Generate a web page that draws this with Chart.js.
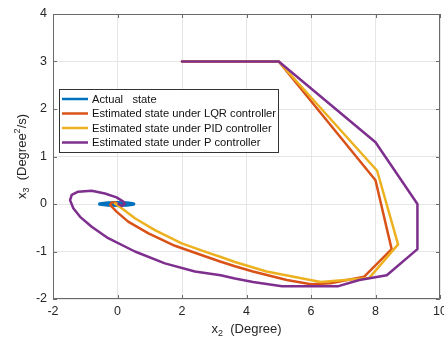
<!DOCTYPE html>
<html>
<head>
<meta charset="utf-8">
<script src="https://cdn.jsdelivr.net/npm/chart.js@4/dist/chart.umd.min.js"></script>
<style>
  html, body { margin: 0; padding: 0; background: #fff; }
</style>
</head>
<body>
<canvas id="c" width="444" height="342"></canvas>
<script>
// Phase-plane trajectories: x2 (Degree) vs x3 (Degree^2/s)
const seriesNames = [
  'Actual   state',
  'Estimated state under LQR controller',
  'Estimated state under PID controller',
  'Estimated state under P controller'
];
const seriesColors = ['#0072BD', '#D95319', '#EDB120', '#7E2F8E'];

const actualX = [-0.55, -0.3, 0.0, 0.3, 0.5, 0.3, 0.0, -0.3, -0.55];
const actualY = [0.0, 0.02, 0.025, 0.02, 0.0, -0.02, -0.025, -0.02, 0.0];

const lqrX = [2, 5, 8.0, 8.5, 7.65, 6.6, 6.0, 5.25, 4.2, 3.64, 3.18, 2.71, 1.78, 0.96, 0.33, -0.03, -0.23, -0.18, -0.05, 0];
const lqrY = [3, 3, 0.5, -0.95, -1.53, -1.67, -1.69, -1.6, -1.42, -1.31, -1.21, -1.1, -0.88, -0.62, -0.37, -0.16, -0.02, 0.03, 0.03, 0];

const pidX = [2, 5, 8.05, 8.7, 7.8, 6.3, 4.62, 3.64, 3.18, 2.82, 1.99, 1.16, 0.54, 0.13, -0.08, 0];
const pidY = [3, 3, 0.7, -0.85, -1.56, -1.64, -1.42, -1.22, -1.11, -1.03, -0.83, -0.55, -0.3, -0.09, 0.01, 0];

const pX = [2, 5, 8.0, 9.3, 9.3, 8.35, 7.5, 6.85, 5.1, 4.2, 3.64, 3.2, 2.4, 1.47, 0.54, -0.29, -0.8, -1.16, -1.37, -1.47, -1.42, -1.22, -0.8, -0.39, -0.03, 0.18, 0.23, 0.13, 0.03];
const pY = [3, 3, 1.3, 0.0, -0.95, -1.5, -1.6, -1.73, -1.73, -1.64, -1.57, -1.5, -1.42, -1.25, -1.0, -0.72, -0.48, -0.27, -0.09, 0.08, 0.19, 0.26, 0.28, 0.22, 0.14, 0.05, 0.0, -0.04, 0.0];

const xTicks = [-2, 0, 2, 4, 6, 8, 10];
const yTicks = [-2, -1, 0, 1, 2, 3, 4];

const FONT = '"Liberation Sans", Arial, Helvetica, sans-serif';
const TEXT = '#262626';

function pts(xs, ys) { return xs.map((x, i) => ({ x: x, y: ys[i] })); }

const xySeries = [[actualX, actualY], [lqrX, lqrY], [pidX, pidY], [pX, pY]];
const widths = [3.5, 2.5, 2.5, 2.5];

const datasets = xySeries.map((s, i) => ({
  label: seriesNames[i],
  data: pts(s[0], s[1]),
  borderColor: seriesColors[i],
  backgroundColor: seriesColors[i],
  borderWidth: widths[i],
  showLine: true,
  pointRadius: 0,
  tension: 0,
  fill: false,
  borderJoinStyle: 'round',
  borderCapStyle: 'round',
  order: 4 - i
}));

// Draws text made of runs, some raised or lowered (sub/superscripts)
function richText(ctx, runs, x, y, align) {
  let total = 0;
  runs.forEach(r => { ctx.font = r.size + 'px ' + FONT; total += ctx.measureText(r.t).width; });
  let cx = align === 'center' ? x - total / 2 : x;
  runs.forEach(r => {
    ctx.font = r.size + 'px ' + FONT;
    ctx.fillText(r.t, cx, y + (r.dy || 0));
    cx += ctx.measureText(r.t).width;
  });
}

const framePlugin = {
  id: 'frame',
  afterDatasetsDraw(chart) {
    const { ctx, chartArea: a, scales } = chart;
    ctx.save();
    ctx.strokeStyle = '#6a6a6a';
    ctx.lineWidth = 1;
    ctx.beginPath();
    ctx.moveTo(a.left + 0.5, a.top + 0.5);
    ctx.lineTo(a.right - 0.5, a.top + 0.5);
    ctx.lineTo(a.right - 0.5, a.bottom - 0.5);
    ctx.lineTo(a.left + 0.5, a.bottom - 0.5);
    ctx.closePath();
    ctx.stroke();
    // inward tick marks on all four sides
    const tl = 4;
    ctx.beginPath();
    xTicks.forEach(v => {
      const px = Math.round(scales.x.getPixelForValue(v)) + 0.5;
      ctx.moveTo(px, a.bottom); ctx.lineTo(px, a.bottom - tl);
      ctx.moveTo(px, a.top); ctx.lineTo(px, a.top + tl);
    });
    yTicks.forEach(v => {
      const py = Math.round(scales.y.getPixelForValue(v)) + 0.5;
      ctx.moveTo(a.left, py); ctx.lineTo(a.left + tl, py);
      ctx.moveTo(a.right, py); ctx.lineTo(a.right - tl, py);
    });
    ctx.stroke();
    ctx.restore();
  },
  afterDraw(chart) {
    const { ctx, chartArea: a } = chart;
    ctx.save();
    ctx.fillStyle = TEXT;
    ctx.textBaseline = 'alphabetic';
    // x-axis title
    richText(ctx, [
      { t: 'x', size: 13 },
      { t: '2', size: 9, dy: 3 },
      { t: '  (Degree)', size: 13 }
    ], (a.left + a.right) / 2, 333, 'center');
    // y-axis title (rotated)
    ctx.translate(26, (a.top + a.bottom) / 2);
    ctx.rotate(-Math.PI / 2);
    richText(ctx, [
      { t: 'x', size: 13 },
      { t: '3', size: 9, dy: 3 },
      { t: '  (Degree', size: 13 },
      { t: '2', size: 9, dy: -6 },
      { t: '/s)', size: 13 }
    ], 0, 0, 'center');
    ctx.restore();

    // legend box
    const bx = 59, by = 89, bw = 219, bh = 63;
    ctx.save();
    ctx.fillStyle = '#ffffff';
    ctx.fillRect(bx, by, bw, bh);
    ctx.strokeStyle = '#333333';
    ctx.lineWidth = 1;
    ctx.strokeRect(bx + 0.5, by + 0.5, bw, bh);
    ctx.font = '11.2px ' + FONT;
    ctx.textBaseline = 'middle';
    chart.data.datasets.forEach((d, i) => {
      const y = by + 10 + i * 14.5;
      ctx.strokeStyle = d.borderColor;
      ctx.lineWidth = 2.5;
      ctx.beginPath();
      ctx.moveTo(62, y); ctx.lineTo(88, y);
      ctx.stroke();
      ctx.fillStyle = '#111';
      ctx.fillText(d.label, 92, y + 0.5);
    });
    ctx.restore();
  }
};

new Chart(document.getElementById('c'), {
  type: 'scatter',
  data: { datasets: datasets },
  options: {
    responsive: false,
    devicePixelRatio: 1,
    animation: false,
    layout: { padding: { top: 14, right: 4, left: 0, bottom: 0 } },
    plugins: { legend: { display: false }, tooltip: { enabled: false } },
    scales: {
      x: {
        type: 'linear', min: -2, max: 10,
        afterBuildTicks: s => { s.ticks = xTicks.map(v => ({ value: v })); },
        ticks: { color: TEXT, font: { family: FONT, size: 12.5 }, padding: 5, maxRotation: 0, autoSkip: false },
        grid: { color: '#e6e6e6', drawTicks: false },
        border: { display: false },
        afterFit: s => { s.paddingLeft = 0; s.paddingRight = 0; s.height = 43; }
      },
      y: {
        type: 'linear', min: -2, max: 4,
        afterBuildTicks: s => { s.ticks = yTicks.map(v => ({ value: v })); },
        ticks: { color: TEXT, font: { family: FONT, size: 12.5 }, padding: 6, autoSkip: false },
        grid: { color: '#e6e6e6', drawTicks: false },
        border: { display: false },
        afterFit: s => { s.width = 53; s.paddingTop = 0; s.paddingBottom = 0; }
      }
    }
  },
  plugins: [framePlugin]
});
</script>
</body>
</html>
